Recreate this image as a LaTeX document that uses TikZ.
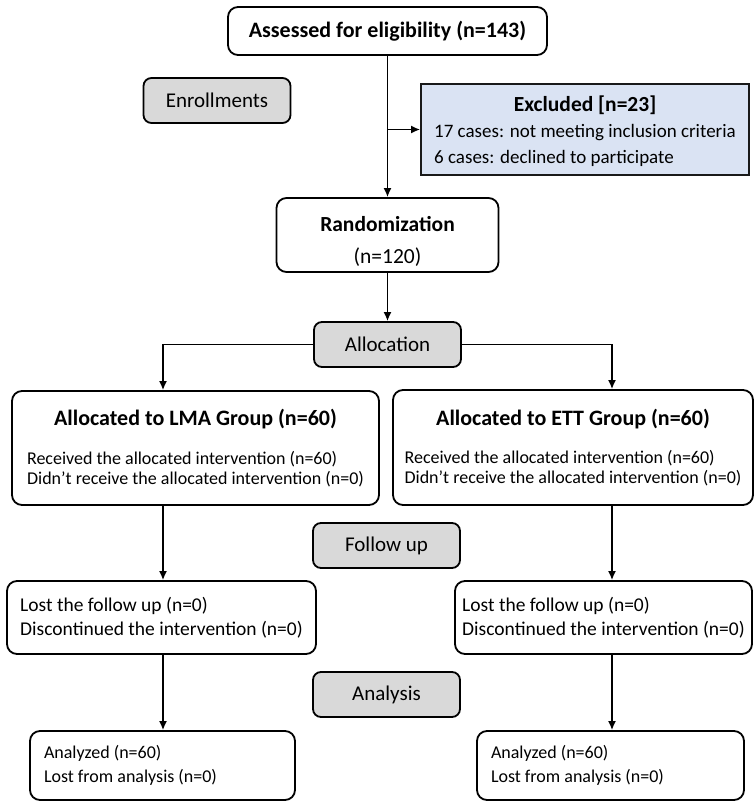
\documentclass[tikz,border=0pt]{standalone}
\usepackage{fontspec}
\setmainfont{Carlito}
\usetikzlibrary{arrows.meta}
\definecolor{stagegray}{HTML}{D9D9D9}
\definecolor{exclblue}{HTML}{DAE3F3}
\tikzset{
  box/.style={draw=black, line width=1.8pt, rounded corners=10pt, fill=white,
    inner sep=0pt, align=center},
  stage/.style={box, fill=stagegray, rounded corners=8pt,
    minimum width=147pt, minimum height=45pt, font=\fontsize{21}{24}\selectfont},
  flow/.style={line width=1.6pt, -{Latex[length=9pt,width=8pt]}}
}
\begin{document}
\begin{tikzpicture}[x=1pt, y=-1pt]
  \useasboundingbox (0,0) rectangle (755,801);
  % enrolment
  \node[box, minimum width=319pt, minimum height=48pt,
    font=\fontsize{22}{24}\selectfont\bfseries] (assess) at (387.5,31)
    {Assessed for eligibility (n=143)};
  \node[stage] (enroll) at (217,100.5) {Enrollments};
  \node[draw=black!90, line width=1.8pt, fill=exclblue, inner sep=0pt,
    minimum width=328pt, minimum height=91pt, align=center,
    font=\fontsize{19}{25}\selectfont] (excl) at (585,129.5)
    {\rule{0pt}{24pt}{\fontsize{21.5}{25}\selectfont\bfseries Excluded [n=23]}\\[4pt]
     \begin{tabular}{@{}l@{}}17 cases: not meeting inclusion criteria\\[1pt]
       6 cases: declined to participate\end{tabular}};
  \node[box, minimum width=222pt, minimum height=74pt,
    font=\fontsize{21.5}{32}\selectfont] (rand) at (387.5,235)
    {\rule{0pt}{28pt}\textbf{Randomization}\\(n=120)};
  % allocation
  \node[stage] (alloc) at (387.5,344.5) {Allocation};
  \node[box, minimum width=367pt, minimum height=114pt,
    font=\fontsize{18}{20}\selectfont] (lma) at (195.5,448)
    {\rule{0pt}{20pt}{\fontsize{22}{24}\selectfont\bfseries Allocated to LMA Group (n=60)}\\[20pt]
     \begin{tabular}{@{}l@{}}Received the allocated intervention (n=60)\\
       Didn’t receive the allocated intervention (n=0)\end{tabular}};
  \node[box, minimum width=360pt, minimum height=115pt,
    font=\fontsize{18}{20}\selectfont] (ett) at (573,447.5)
    {\rule{0pt}{20pt}{\fontsize{22}{24}\selectfont\bfseries Allocated to ETT Group (n=60)}\\[20pt]
     \begin{tabular}{@{}l@{}}Received the allocated intervention (n=60)\\
       Didn’t receive the allocated intervention (n=0)\end{tabular}};
  % follow up
  \node[stage] (follow) at (386.5,545.5) {Follow up};
  \node[box, minimum width=309pt, minimum height=73pt, align=flush left,
    font=\fontsize{19.5}{24}\selectfont] (lostL) at (161.5,617.5)
    {Lost the follow up (n=0)\\Discontinued the intervention (n=0)};
  \node[box, minimum width=297pt, minimum height=73pt, align=flush left,
    font=\fontsize{19.5}{24}\selectfont] (lostR) at (603.5,617.5)
    {Lost the follow up (n=0)\\Discontinued the intervention (n=0)};
  % analysis
  \node[stage] (analysis) at (386.5,694.5) {Analysis};
  \node[box, minimum width=265pt, minimum height=69pt, align=flush left,
    text width=237pt, font=\fontsize{18}{24}\selectfont] (anaL) at (162.5,765.5)
    {Analyzed (n=60)\\Lost from analysis (n=0)};
  \node[box, minimum width=267pt, minimum height=69pt, align=flush left,
    text width=239pt, font=\fontsize{18}{24}\selectfont] (anaR) at (610.5,765.5)
    {Analyzed (n=60)\\Lost from analysis (n=0)};
  % columns of the two groups
  \coordinate (colL) at (163,0);
  \coordinate (colR) at (612,0);
  \draw[flow] (assess) -- (rand);
  \draw[flow] (assess.south |- excl.west) -- (excl.west);
  \draw[flow] (rand) -- (alloc);
  \draw[flow] (alloc.west) -| (colL |- lma.north);
  \draw[flow] (alloc.east) -| (colR |- ett.north);
  \draw[flow] (colL |- lma.south) -- (colL |- lostL.north);
  \draw[flow] (colR |- ett.south) -- (colR |- lostR.north);
  \draw[flow] (colL |- lostL.south) -- (colL |- anaL.north);
  \draw[flow] (colR |- lostR.south) -- (colR |- anaR.north);
\end{tikzpicture}
\end{document}
